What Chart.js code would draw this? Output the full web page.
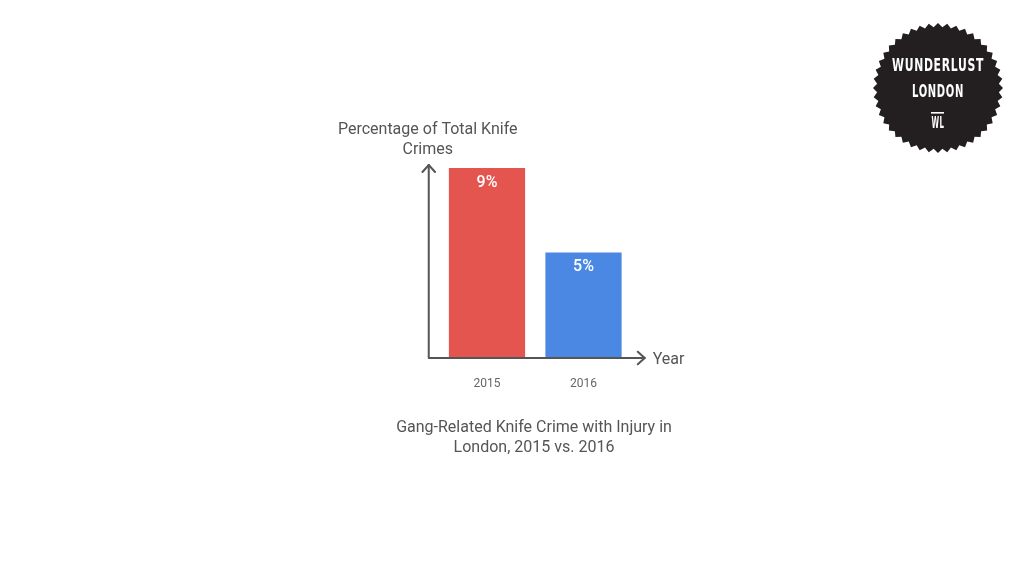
<!DOCTYPE html>
<html>
<head>
<meta charset="utf-8">
<script src="https://cdn.jsdelivr.net/npm/chart.js@4/dist/chart.umd.min.js"></script>
<style>
  html, body { margin: 0; padding: 0; background: #fff; }
  #wrap { width: 1024px; height: 576px; position: relative; }
</style>
</head>
<body>
<div id="wrap"><canvas id="chart"></canvas></div>
<script>
const years = ["2015", "2016"];
const shares = [9, 5];
const barLabels = ["9%", "5%"];
const barColors = ["#e5554f", "#4a88e4"];
const yTitle = ["Percentage of Total Knife", "Crimes"];
const xTitle = "Year";
const caption = ["Gang-Related Knife Crime with Injury in", "London, 2015 vs. 2016"];

const textColor = "#555555";
const font = "Roboto, 'Open Sans', sans-serif";

function arrowHead(ctx, x, y, dx, dy) {
  // open chevron pointing along (dx, dy)
  const size = 7;
  const px = -dy, py = dx;
  ctx.beginPath();
  ctx.moveTo(x - dx * size + px * size * 0.9, y - dy * size + py * size * 0.9);
  ctx.lineTo(x, y);
  ctx.lineTo(x - dx * size - px * size * 0.9, y - dy * size - py * size * 0.9);
  ctx.stroke();
}

function drawLogo(ctx) {
  const cx = 938, cy = 88, outer = 65, inner = 61, teeth = 44;
  ctx.save();
  ctx.fillStyle = "#231f20";
  ctx.beginPath();
  for (let i = 0; i < teeth * 2; i++) {
    const r = i % 2 === 0 ? outer : inner;
    const a = (Math.PI * i) / teeth - Math.PI / 2;
    const x = cx + r * Math.cos(a), y = cy + r * Math.sin(a);
    if (i === 0) ctx.moveTo(x, y); else ctx.lineTo(x, y);
  }
  ctx.closePath();
  ctx.fill();

  ctx.fillStyle = "#ffffff";
  ctx.textAlign = "center";
  ctx.textBaseline = "middle";
  ctx.font = "bold 17px 'DejaVu Sans Condensed', 'Liberation Sans Narrow', sans-serif";
  if ("letterSpacing" in ctx) ctx.letterSpacing = "1px";
  ctx.fillText("WUNDERLUST", cx, 67, 92);
  ctx.fillText("LONDON", cx, 93, 52);
  ctx.font = "bold 15px 'DejaVu Sans Condensed', 'Liberation Sans Narrow', sans-serif";
  ctx.fillText("WL", cx, 124, 13);
  ctx.fillRect(cx - 7, 112, 13, 1.6);
  ctx.restore();
}

const decorations = {
  id: "decorations",
  afterDatasetsDraw(chart) {
    const { ctx, chartArea } = chart;
    const left = chartArea.left - 10;
    const bottom = chartArea.bottom;
    const top = chartArea.top - 3;
    const right = chartArea.right + 13;

    ctx.save();
    // axes with arrows
    ctx.strokeStyle = textColor;
    ctx.lineWidth = 2;
    ctx.lineCap = "round";
    ctx.lineJoin = "round";
    ctx.beginPath();
    ctx.moveTo(left, top);
    ctx.lineTo(left, bottom);
    ctx.lineTo(right, bottom);
    ctx.stroke();
    arrowHead(ctx, left, top, 0, -1);
    arrowHead(ctx, right, bottom, 1, 0);

    // value labels inside bars
    const meta = chart.getDatasetMeta(0);
    ctx.fillStyle = "#ffffff";
    ctx.font = "500 16px " + font;
    ctx.textAlign = "center";
    ctx.textBaseline = "middle";
    meta.data.forEach((bar, i) => {
      ctx.fillText(barLabels[i], bar.x, bar.y + 15);
    });

    // axis titles
    ctx.fillStyle = textColor;
    ctx.font = "16px " + font;
    ctx.fillText(yTitle[0], left - 1, 130);
    ctx.fillText(yTitle[1], left - 1, 150);
    ctx.textAlign = "left";
    ctx.fillText(xTitle, right + 8, bottom + 2);

    // caption
    ctx.textAlign = "center";
    ctx.fillText(caption[0], 534, 428);
    ctx.fillText(caption[1], 534, 448);

    drawLogo(ctx);
    ctx.restore();
  }
};

new Chart(document.getElementById("chart"), {
  type: "bar",
  data: {
    labels: years,
    datasets: [
      {
        data: shares,
        backgroundColor: barColors,
        borderWidth: 0,
        categoryPercentage: 1,
        barPercentage: 0.79
      }
    ]
  },
  options: {
    responsive: true,
    maintainAspectRatio: false,
    animation: false,
    events: [],
    layout: { padding: { left: 438.75, right: 392.25, top: 168, bottom: 0 } },
    plugins: { legend: { display: false }, tooltip: { enabled: false } },
    scales: {
      x: {
        grid: { display: false, drawTicks: false },
        border: { display: false },
        ticks: { color: "#666666", font: { family: font, size: 12 }, padding: 19 },
        afterFit(scale) { scale.height = 218; }
      },
      y: { display: false, min: 0, max: 9 }
    }
  },
  plugins: [decorations]
});
</script>
</body>
</html>
